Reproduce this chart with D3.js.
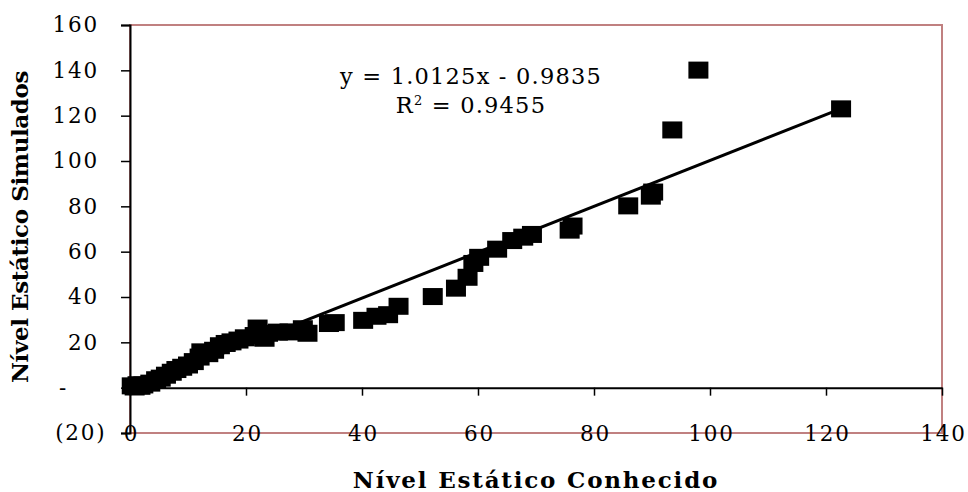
<!DOCTYPE html>
<html>
<head>
<meta charset="utf-8">
<script src="https://cdn.jsdelivr.net/npm/d3@7"></script>
<style>
  body { margin: 0; background: #fff; }
  .tick text { font-family: "DejaVu Serif", serif; font-size: 21.5px; letter-spacing: 1.8px; fill: #000; }
  .title { font-family: "DejaVu Serif", serif; font-weight: bold; font-size: 23px; fill: #000; }
  .eq { font-family: "DejaVu Serif", serif; font-size: 22.5px; letter-spacing: 1.2px; fill: #000; }
</style>
</head>
<body>
<div class="chart"></div>
<script>
// known vs simulated static level
const known = [0.3, 0.8, 1.3, 1.8, 2.3, 3.5, 4.5, 5.3, 6.2, 7.2, 8.0, 9.0, 10.0, 11.0, 12.0,
  12.3, 13.5, 14.5, 15.5, 16.5, 17.5, 18.7, 19.8, 21.5, 22.0, 23.2, 23.8, 25.5, 27.5, 29.8,
  30.6, 34.3, 35.3, 40.2, 42.5, 44.5, 46.3, 52.2, 56.2, 58.2, 59.2, 60.2, 63.3, 65.9, 67.8,
  69.3, 75.8, 76.3, 85.9, 89.8, 90.2, 93.5, 98.0, 122.6];
const simulated = [0.8, 0.3, 1.3, 0.6, 1.2, 2.0, 3.5, 4.2, 5.5, 6.8, 8.0, 9.0, 10.0, 11.5, 13.5,
  15.8, 15.0, 16.5, 18.5, 19.5, 20.2, 21.0, 22.0, 23.0, 26.3, 21.8, 24.0, 24.5, 24.6, 26.0,
  24.0, 28.3, 28.7, 29.7, 31.5, 32.2, 35.9, 40.2, 43.9, 48.7, 54.8, 57.5, 61.1, 64.9, 66.4,
  67.6, 69.5, 71.3, 80.2, 84.5, 86.3, 113.7, 140.1, 123.0];

const xTicks = [0, 20, 40, 60, 80, 100, 120, 140];
const yTicks = [-20, 0, 20, 40, 60, 80, 100, 120, 140, 160];
const yTickLabels = ["(20)", "-", "20", "40", "60", "80", "100", "120", "140", "160"];

const slope = 1.0125, intercept = -0.9835, r2 = 0.9455;

const data = known.map((k, i) => ({x: k, y: simulated[i]}));

const W = 968, H = 492;
const margin = {top: 25, left: 130, right: 26, bottom: 59};

const svg = d3.select(".chart").append("svg")
    .attr("width", W)
    .attr("height", H);

const xScale = d3.scaleLinear().domain([0, 140]).range([margin.left, W - margin.right]);
const yScale = d3.scaleLinear().domain([-20, 160]).range([H - margin.bottom, margin.top]);

// plot border (reddish)
svg.append("rect")
    .attr("x", xScale(0))
    .attr("y", yScale(160))
    .attr("width", xScale(140) - xScale(0))
    .attr("height", yScale(-20) - yScale(160))
    .attr("fill", "none")
    .attr("stroke", "#c08080")
    .attr("stroke-width", 2);

// y axis
const yAxis = d3.axisLeft(yScale)
    .tickValues(yTicks)
    .tickSize(9)
    .tickPadding(22)
    .tickFormat((d, i) => yTickLabels[i]);

const yAxGr = svg.append("g")
    .attr("transform", `translate(${xScale(0)},0)`)
    .call(yAxis);
yAxGr.select(".domain").attr("stroke", "#000").attr("stroke-width", 2);
yAxGr.selectAll(".tick line").attr("stroke", "#000").attr("stroke-width", 1.5);
yAxGr.selectAll(".tick text")
    .attr("dx", d => d < 0 ? 7.5 : (d === 0 ? -31 : 0));

// x axis line with ticks at y = 0
const xAxis = d3.axisBottom(xScale)
    .tickValues(xTicks)
    .tickSize(8)
    .tickSizeOuter(0)
    .tickFormat("");

const xAxGr = svg.append("g")
    .attr("transform", `translate(0,${yScale(0)})`)
    .call(xAxis);
xAxGr.select(".domain").attr("stroke", "#000").attr("stroke-width", 2);
xAxGr.selectAll(".tick line").attr("stroke", "#000").attr("stroke-width", 1.5);

// x labels sit on the bottom edge
const xLab = svg.append("g")
    .attr("transform", `translate(0,${yScale(-20)})`)
    .call(d3.axisBottom(xScale).tickValues(xTicks).tickSize(0).tickPadding(0));
xLab.select(".domain").remove();
xLab.selectAll(".tick text").attr("y", 0).attr("dy", "0.36em").attr("dx", "0.9px");

// trend line
const xr = d3.extent(known);
svg.append("path")
    .datum(xr.map(x => ({x: x, y: slope * x + intercept})))
    .attr("d", d3.line().x(d => xScale(d.x)).y(d => yScale(d.y)))
    .attr("stroke", "#000")
    .attr("stroke-width", 3)
    .attr("fill", "none");

// markers
const mw = 20, mh = 17;
svg.append("g").selectAll("rect")
    .data(data)
    .join("rect")
    .attr("x", d => xScale(d.x) - mw / 2)
    .attr("y", d => yScale(d.y) - mh / 2)
    .attr("width", mw)
    .attr("height", mh)
    .attr("fill", "#000");

// equation
svg.append("text")
    .attr("class", "eq")
    .attr("x", 471)
    .attr("y", 84)
    .attr("text-anchor", "middle")
    .text(`y = ${slope}x - ${Math.abs(intercept)}`);

const r2t = svg.append("text")
    .attr("class", "eq")
    .attr("x", 471)
    .attr("y", 113)
    .attr("text-anchor", "middle");
r2t.append("tspan").text("R");
r2t.append("tspan").attr("dy", -8).attr("font-size", "13px").text("2");
r2t.append("tspan").attr("dy", 8).text(` = ${r2}`);

// axis titles
svg.append("text")
    .attr("class", "title")
    .attr("x", (xScale(0) + xScale(140)) / 2)
    .attr("y", 488)
    .attr("text-anchor", "middle")
    .attr("letter-spacing", "1.8px")
    .text("Nível Estático Conhecido");

svg.append("text")
    .attr("class", "title")
    .attr("transform", `translate(28,227) rotate(-90)`)
    .attr("text-anchor", "middle")
    .attr("letter-spacing", "-0.4px")
    .text("Nível Estático Simulados");
</script>
</body>
</html>
